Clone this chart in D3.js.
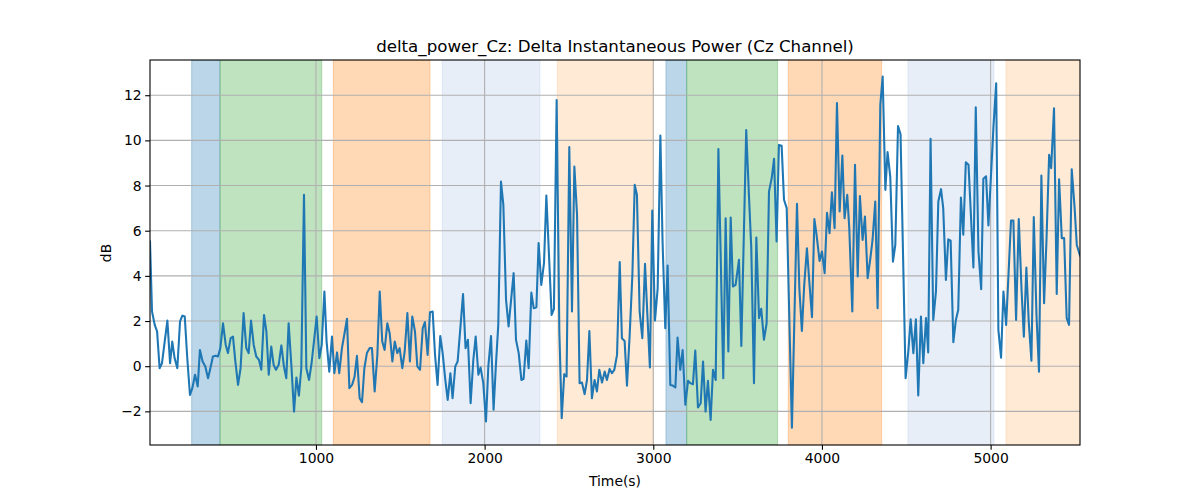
<!DOCTYPE html>
<html>
<head>
<meta charset="utf-8">
<script src="https://cdn.jsdelivr.net/npm/d3@7"></script>
<style>
html,body{margin:0;padding:0;background:#fff;}
text{font-family:"DejaVu Sans",sans-serif;fill:#000;}
</style>
</head>
<body>
<svg id="chart" width="1200" height="500"></svg>
<script>
// ---- data (time in s, power in dB) ----
const times = [
  16,28,44,58,73,87,103,119,135,148,162,178,194,208,222,237,253,267,283,299,312,328,344,360,374,389,405,419,433,449,465,478,494,508,522,538,553,571,587,601,615,631,646,662,676,
  692,706,720,735,749,763,779,795,810,824,838,854,870,884,899,913,929,943,959,974,988,1004,1020,1034,1050,1063,1079,1095,1109,1125,1138,1154,1168,1184,1198,1214,1229,1243,1259,1273,1287,1302,1318,1332,1348,1364,1378,
  1393,1407,1423,1437,1453,1467,1482,1496,1512,1526,1542,1557,1571,1587,1601,1617,1633,1646,1662,1676,1692,1706,1721,1737,1751,1767,1781,1797,1810,1826,1840,1856,1872,1887,1901,1917,1933,1947,1963,1976,1992,2008,2022,2038,2053,2067,
  2081,2097,2111,2127,2142,2156,2172,2186,2202,2218,2231,2247,2261,2277,2291,2307,2320,2336,2352,2366,2382,2397,2411,2427,2443,2457,2472,2486,2502,2518,2532,2548,2563,2577,2593,2607,2621,2636,2652,2666,2680,2696,2712,2725,2741,2755,
  2769,2785,2801,2814,2830,2844,2860,2876,2890,2903,2919,2935,2951,2965,2980,2994,3010,3026,3042,3055,3071,3085,3101,3115,3131,3144,3160,3174,3190,3206,3220,3235,3249,3265,3281,3295,3310,3324,3340,3354,3370,3386,3415,3429,3445,
  3459,3472,3488,3508,3522,3551,3567,3581,3597,3611,3627,3640,3656,3672,3686,3702,3716,3731,3745,3761,3775,3791,3822,3852,3866,3881,3895,3911,3925,3941,3955,3968,3986,4000,4016,4030,4045,4059,4075,4089,4105,4121,4134,4150,
  4162,4180,4196,4212,4225,4241,4255,4271,4287,4300,4316,4330,4346,4360,4376,4389,4405,4421,4435,4451,4466,4496,4512,4526,4542,4557,4571,4587,4601,4617,4630,4644,4660,4676,4690,4706,4719,4735,4749,4763,4779,4794,4808,4824,4838,
  4853,4869,4898,4912,4928,4944,4957,4973,4987,5017,5033,5046,5062,5076,5092,5121,5135,5151,5167,5183,5197,5212,5226,5242,5256,5272,5287,5301,5317,5331,5347,5359,5376,5392,5406,5422,5436,5451,5465,5481,5497,5511,5530
];
const power = [
  5.52,2.42,1.83,1.54,-0.09,0.13,1.09,2.02,0.13,1.09,0.35,-0.09,1.98,2.24,2.20,0.35,-1.27,-0.97,-0.38,-0.90,0.72,0.21,-0.01,-0.53,-0.09,0.43,0.46,0.43,0.80,1.90,0.94,0.58,1.24,1.31,0.21,-0.83,-0.09,2.35,0.80,0.58,2.02,0.94,0.43,0.28,-0.16,
  2.27,1.54,-0.38,0.87,0.06,-0.16,0.06,0.92,-0.01,-0.53,1.90,0.06,-2.01,-0.50,-1.30,-0.09,7.59,-0.09,-0.61,0.13,1.09,2.20,0.35,0.94,3.31,1.09,-0.24,1.31,-0.31,0.61,-0.31,0.80,1.39,2.10,-0.97,-0.83,-0.46,0.46,-1.42,-1.59,-0.09,0.58,0.80,0.80,-1.12,0.50,3.31,
  1.09,0.72,1.90,1.46,0.21,1.09,0.58,0.80,-0.09,0.65,2.35,0.21,2.20,1.54,-0.01,-0.16,1.68,1.95,0.50,2.39,2.42,0.50,-0.83,1.34,0.58,-0.61,-1.49,-0.31,-1.42,-0.01,0.21,1.68,3.19,0.80,1.17,-1.64,0.28,1.31,-0.38,-0.06,-0.75,-2.45,-0.01,1.34,-1.93,0.06,
  1.83,8.18,7.14,2.94,1.76,2.86,4.12,1.17,0.58,-0.61,-0.56,1.14,-0.09,3.26,2.57,2.61,5.45,3.60,4.56,7.56,4.86,2.27,2.54,11.79,1.54,-2.30,-0.35,-0.46,9.70,2.42,8.84,6.70,-0.75,-0.72,-1.24,-0.61,1.56,-1.42,-0.61,-1.12,-0.16,-0.72,-0.24,-0.61,-0.12,-0.31,
  -0.16,0.50,4.61,1.24,1.12,-0.86,1.39,4.04,8.03,7.59,2.42,1.24,4.53,2.27,-0.06,6.89,2.02,3.45,10.21,5.52,1.68,4.46,-0.83,-0.86,-0.94,1.27,-0.16,0.72,-1.71,-0.65,-0.75,-0.80,0.69,-1.83,-1.64,0.21,-2.01,-0.65,-2.38,-0.16,-0.61,9.62,-0.53,6.55,0.65,
  6.58,3.53,3.60,4.71,0.90,10.46,7.59,5.22,-0.75,5.70,2.13,2.54,1.17,1.90,7.73,8.32,9.18,5.52,9.80,9.76,7.37,7.00,-2.72,7.19,3.45,1.56,3.60,5.22,3.75,2.17,6.52,5.82,4.66,5.08,4.12,6.79,5.89,7.70,6.11,11.65,6.85,9.33,6.55,7.59,
  6.11,2.42,8.92,3.97,7.54,5.59,6.63,3.90,4.78,5.59,7.29,2.57,11.57,12.83,7.81,9.48,8.40,4.63,5.37,10.64,10.27,-0.53,0.65,2.08,0.58,2.08,-1.30,2.20,0.13,2.13,0.61,10.07,2.05,3.31,7.29,7.84,7.00,3.82,5.62,5.56,1.06,2.05,2.49,7.47,5.82,
  9.03,8.92,4.37,11.47,5.08,3.41,8.30,8.41,6.23,10.61,12.53,1.61,0.38,3.31,1.83,6.45,6.45,2.05,6.52,3.45,1.31,4.37,1.98,0.24,6.60,2.27,-0.24,8.44,2.79,5.52,9.36,8.77,11.42,3.20,8.28,5.67,5.67,2.13,1.83,8.72,7.14,5.37,4.90
];
// shaded segments (start/end time in s) and their kind
const segStart = [263, 431, 1103, 1749, 2431, 3075, 3198, 3800, 4510, 5091];
const segEnd   = [431, 1034, 1676, 2328, 3000, 3198, 3737, 4354, 5020, 5700];
const segKind  = ["a", "b", "c", "d", "e", "a", "b", "c", "d", "e"];
const xTicks = [1000, 2000, 3000, 4000, 5000];
const yTicks = [-2, 0, 2, 4, 6, 8, 10, 12];
const titleText = "delta_power_Cz: Delta Instantaneous Power (Cz Channel)";

// ---- styles ----
const kindColor = {a: "#1f77b4", b: "#2ca02c", c: "#ff7f0e", d: "#aec7e8", e: "#ffbb78"};
const M = {left: 150, top: 60, right: 1080, bottom: 445};

const svg = d3.select("#chart");
const x = d3.scaleLinear().domain([16, 5530]).range([M.left, M.right]);
const y = d3.scaleLinear().domain([-3.49, 13.56]).range([M.bottom, M.top]);

const defs = svg.append("defs");
defs.append("clipPath").attr("id", "clip").append("rect")
  .attr("x", M.left).attr("y", M.top).attr("width", M.right - M.left).attr("height", M.bottom - M.top);

const plot = svg.append("g").attr("clip-path", "url(#clip)");

// spans
const segs = segStart.map((s, i) => ({s, e: segEnd[i], k: segKind[i]}));
plot.selectAll("rect.span").data(segs).enter().append("rect")
  .attr("class", "span")
  .attr("x", d => x(d.s)).attr("width", d => x(d.e) - x(d.s))
  .attr("y", M.top).attr("height", M.bottom - M.top)
  .attr("fill", d => kindColor[d.k]).attr("fill-opacity", 0.3)
  .attr("stroke", d => kindColor[d.k]).attr("stroke-opacity", 0.3).attr("stroke-width", 1);

// grid
plot.selectAll("line.gx").data(xTicks).enter().append("line")
  .attr("x1", d => x(d)).attr("x2", d => x(d)).attr("y1", M.top).attr("y2", M.bottom)
  .attr("stroke", "#b0b0b0").attr("stroke-width", 1.1);
plot.selectAll("line.gy").data(yTicks).enter().append("line")
  .attr("y1", d => y(d)).attr("y2", d => y(d)).attr("x1", M.left).attr("x2", M.right)
  .attr("stroke", "#b0b0b0").attr("stroke-width", 1.1);

// line
const pts = times.map((t, i) => [t, power[i]]).filter(p => p[1] !== undefined);
plot.append("path").datum(pts)
  .attr("fill", "none").attr("stroke", "#1f77b4").attr("stroke-width", 2.08)
  .attr("stroke-linejoin", "round").attr("stroke-linecap", "square")
  .attr("d", d3.line().x(d => x(d[0])).y(d => y(d[1])));

// axes
const fmt = d => String(d).replace("-", "\u2212");
const xAxis = d3.axisBottom(x).tickValues(xTicks).tickSize(4.86).tickPadding(3.5).tickFormat(fmt);
const yAxis = d3.axisLeft(y).tickValues(yTicks).tickSize(4.86).tickPadding(3.5).tickFormat(fmt);
const gx = svg.append("g").attr("transform", `translate(0,${M.bottom})`).call(xAxis);
const gy = svg.append("g").attr("transform", `translate(${M.left},0)`).call(yAxis);
[gx, gy].forEach(g => {
  g.select(".domain").remove();
  g.selectAll(".tick line").attr("stroke", "#000").attr("stroke-width", 1.1);
  g.selectAll(".tick text").attr("font-size", "13.9px").attr("font-family", "DejaVu Sans").attr("fill", "#000");
});

// frame
svg.append("rect").attr("x", M.left).attr("y", M.top)
  .attr("width", M.right - M.left).attr("height", M.bottom - M.top)
  .attr("fill", "none").attr("stroke", "#000").attr("stroke-width", 1.1);

// labels
svg.append("text").attr("x", (M.left + M.right) / 2).attr("y", 51.7)
  .attr("text-anchor", "middle").attr("font-size", "16.67px").text(titleText);
svg.append("text").attr("x", (M.left + M.right) / 2).attr("y", 486)
  .attr("text-anchor", "middle").attr("font-size", "13.9px").text("Time(s)");
svg.append("text").attr("transform", "translate(111,253) rotate(-90)")
  .attr("text-anchor", "middle").attr("font-size", "13.9px").text("dB");
</script>
</body>
</html>
